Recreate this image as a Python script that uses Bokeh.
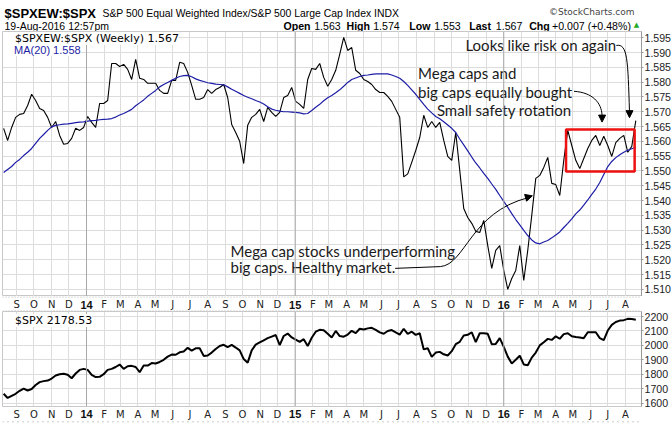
import datetime as dt
from bokeh.plotting import figure
from bokeh.layouts import column
from bokeh.models import (Range1d, FixedTicker, Legend, LegendItem, Span,
                          BoxAnnotation, NumeralTickFormatter, Arrow, NormalHead)
from bokeh.core.properties import value
from bokeh.embed import file_html
from bokeh.resources import INLINE

# ---------------- data (weekly) ----------------
first_week = dt.datetime(2013, 8, 9)

ratio = [
    1.5644, 1.5603, 1.5647, 1.5681, 1.5691, 1.5694, 1.5721, 1.5759, 1.5738, 1.5711,
    1.5704, 1.5681, 1.5647, 1.5667, 1.5620, 1.5590, 1.5593, 1.5610, 1.5644, 1.5637,
    1.5647, 1.5684, 1.5664, 1.5647, 1.5728, 1.5728, 1.5738, 1.5863, 1.5863, 1.5853,
    1.5860, 1.5843, 1.5809, 1.5877, 1.5813, 1.5809, 1.5796, 1.5796, 1.5796, 1.5772,
    1.5762, 1.5762, 1.5806, 1.5806, 1.5867, 1.5863, 1.5833, 1.5789, 1.5742, 1.5742,
    1.5748, 1.5775, 1.5762, 1.5775, 1.5782, 1.5792, 1.5748, 1.5657, 1.5630, 1.5600,
    1.5525, 1.5654, 1.5681, 1.5691, 1.5708, 1.5667, 1.5715, 1.5698, 1.5684, 1.5698,
    1.5748, 1.5755, 1.5782, 1.5735, 1.5725, 1.5711, 1.5809, 1.5846, 1.5843, 1.5863,
    1.5816, 1.5786, 1.5809, 1.5840, 1.5894, 1.5951, 1.5907, 1.5917, 1.5840, 1.5829,
    1.5809, 1.5802, 1.5792, 1.5775, 1.5765, 1.5765, 1.5752, 1.5735, 1.5708, 1.5681,
    1.5480, 1.5490, 1.5529, 1.5569, 1.5613, 1.5688, 1.5647, 1.5667, 1.5647, 1.5664,
    1.5603, 1.5549, 1.5536, 1.5630, 1.5502, 1.5373, 1.5343, 1.5323, 1.5296, 1.5292,
    1.5333, 1.5248, 1.5171, 1.5232, 1.5248, 1.5164, 1.5100, 1.5137, 1.5164, 1.5248,
    1.5130, 1.5232, 1.5350, 1.5475, 1.5485, 1.5512, 1.5546, 1.5458, 1.5454, 1.5417,
    1.5536, 1.5637, 1.5586, 1.5536, 1.5508, 1.5542, 1.5576, 1.5603, 1.5620, 1.5586,
    1.5617, 1.5586, 1.5549, 1.5596, 1.5610, 1.5620, 1.5563, 1.5583, 1.5670,
]

ma20 = [
    1.5495, 1.5505, 1.5515, 1.5529, 1.5539, 1.5552, 1.5563, 1.5576, 1.5593, 1.5610,
    1.5623, 1.5637, 1.5649, 1.5654, 1.5656, 1.5658, 1.5659, 1.5661, 1.5663, 1.5665,
    1.5666, 1.5668, 1.5670, 1.5671, 1.5673, 1.5674, 1.5675, 1.5677, 1.5682, 1.5689,
    1.5694, 1.5701, 1.5708, 1.5720, 1.5730, 1.5740, 1.5752, 1.5762, 1.5772, 1.5784,
    1.5792, 1.5799, 1.5806, 1.5813, 1.5819, 1.5822, 1.5823, 1.5818, 1.5811, 1.5806,
    1.5802, 1.5798, 1.5796, 1.5793, 1.5792, 1.5791, 1.5784, 1.5776, 1.5769, 1.5762,
    1.5755, 1.5749, 1.5744, 1.5738, 1.5733, 1.5726, 1.5717, 1.5709, 1.5705, 1.5702,
    1.5700, 1.5700, 1.5699, 1.5698, 1.5696, 1.5693, 1.5694, 1.5704, 1.5715, 1.5725,
    1.5737, 1.5747, 1.5755, 1.5764, 1.5774, 1.5786, 1.5799, 1.5809, 1.5814, 1.5819,
    1.5823, 1.5824, 1.5826, 1.5828, 1.5828, 1.5828, 1.5828, 1.5824, 1.5819, 1.5813,
    1.5802, 1.5789, 1.5774, 1.5759, 1.5742, 1.5725, 1.5709, 1.5696, 1.5684, 1.5676,
    1.5666, 1.5655, 1.5644, 1.5630, 1.5608, 1.5588, 1.5568, 1.5547, 1.5527, 1.5510,
    1.5492, 1.5475, 1.5456, 1.5438, 1.5417, 1.5397, 1.5377, 1.5356, 1.5336, 1.5318,
    1.5299, 1.5282, 1.5267, 1.5257, 1.5254, 1.5260, 1.5265, 1.5274, 1.5284, 1.5294,
    1.5309, 1.5323, 1.5338, 1.5355, 1.5368, 1.5385, 1.5402, 1.5421, 1.5439, 1.5461,
    1.5488, 1.5515, 1.5532, 1.5545, 1.5555, 1.5563, 1.5570, 1.5575, 1.5580,
]

spx = [
    1664, 1635, 1650, 1664, 1685, 1700, 1687, 1697, 1725, 1745,
    1752, 1756, 1770, 1791, 1800, 1803, 1796, 1772, 1805, 1830,
    1837, 1830, 1795, 1780, 1782, 1800, 1830, 1837, 1850, 1867,
    1837, 1855, 1858, 1850, 1814, 1860, 1860, 1877, 1874, 1885,
    1900, 1922, 1936, 1935, 1952, 1957, 1983, 1964, 1980, 1980,
    1927, 1930, 1950, 1975, 1996, 2004, 1988, 2003, 1985, 1965,
    1905, 1880, 1965, 2005, 2020, 2035, 2050, 2061, 2072, 2002,
    2065, 2082, 2055, 2040, 2024, 2043, 1995, 2053, 2095, 2108,
    2105, 2080, 2055, 2100, 2065, 2060, 2075, 2101, 2085, 2115,
    2110, 2118, 2122, 2108, 2090, 2081, 2100, 2106, 2090, 2075,
    2115, 2080, 2095, 2073, 2084, 1972, 1980, 1920, 1950, 1955,
    1938, 1930, 1960, 2008, 2025, 2068, 2073, 2091, 2023, 2084,
    2084, 2080, 2008, 2010, 2050, 1990, 1922, 1875, 1900, 1928,
    1868, 1862, 1915, 1950, 2000, 2022, 2045, 2038, 2063, 2046,
    2078, 2084, 2063, 2058, 2055, 2050, 2091, 2091, 2091, 2050,
    2037, 2103, 2142, 2162, 2172, 2175, 2184, 2183, 2178.53,
]

weeks = [first_week + dt.timedelta(weeks=i) for i in range(len(ratio))]

month_labels = ["S", "O", "N", "D", "14", "F", "M", "A", "M", "J", "J", "A",
                "S", "O", "N", "D", "15", "F", "M", "A", "M", "J", "J", "A",
                "S", "O", "N", "D", "16", "F", "M", "A", "M", "J", "J", "A"]
first_month = (2013, 9)

ratio_ticks = [1.510, 1.515, 1.520, 1.525, 1.530, 1.535, 1.540, 1.545, 1.550,
               1.555, 1.560, 1.565, 1.570, 1.575, 1.580, 1.585, 1.590, 1.595]
spx_ticks = [1600, 1700, 1800, 1900, 2000, 2100, 2200]

q_open, q_high, q_low, q_last, q_chg = "1.563", "1.574", "1.553", "1.567", "+0.007 (+0.48%)"
last_ratio, last_ma, last_spx = "1.567", "1.558", "2178.53"

# ---------------- helpers ----------------
EPOCH = dt.datetime(1970, 1, 1)


def ms(d):
    return (d - EPOCH).total_seconds() * 1000.0


months = []
yy, mm = first_month
for _ in month_labels:
    months.append(dt.datetime(yy, mm, 1))
    mm += 1
    if mm == 13:
        yy, mm = yy + 1, 1
year_starts = [d for d, l in zip(months, month_labels) if l.isdigit()]

GRID = "#dcdcdc"
YEARGRID = "#a8a8a8"
BLUE = "#1c1ca6"
AXIS_FONT = "Liberation Sans"
MONO = "DejaVu Sans"
NOTE_FONT = "Lato"

xr = Range1d(ms(dt.datetime(2013, 8, 7)), ms(dt.datetime(2016, 8, 29)))
FW = 639


def panel(height, yrange, ticks, fmt, bottom=0):
    p = figure(frame_width=FW, frame_height=height, x_range=xr, y_range=yrange,
               x_axis_location=None, y_axis_location="right",
               toolbar_location=None, output_backend="svg",
               min_border_left=2, min_border_right=0, min_border_top=0, min_border_bottom=bottom)
    p.outline_line_color = "#c8c8c8"
    p.background_fill_color = "white"
    p.border_fill_color = "white"
    ax = p.yaxis[0]
    ax.ticker = FixedTicker(ticks=ticks)
    ax.formatter = NumeralTickFormatter(format=fmt)
    ax.major_label_text_font = AXIS_FONT
    ax.major_label_text_font_size = "10.6px"
    ax.major_label_text_color = "#222222"
    ax.major_tick_out = 2
    ax.major_tick_in = 0
    ax.minor_tick_out = 0
    ax.minor_tick_in = 0
    ax.major_label_standoff = 1
    ax.axis_line_color = "#999999"
    ax.major_tick_line_color = "#999999"
    p.ygrid.ticker = FixedTicker(ticks=ticks)
    p.ygrid.grid_line_color = GRID
    p.xgrid.ticker = FixedTicker(ticks=[ms(d) for d in months])
    p.xgrid.grid_line_color = GRID
    for d in year_starts:
        p.add_layout(Span(location=ms(d), dimension="height", line_color=YEARGRID, line_width=1))
    return p


def strip(height, ylab, dots):
    s = figure(frame_width=FW, frame_height=height, x_range=xr, y_range=Range1d(0, 1),
               x_axis_location=None, y_axis_location=None,
               toolbar_location=None, output_backend="svg",
               min_border_left=2, min_border_right=29, min_border_top=0, min_border_bottom=0)
    s.grid.visible = False
    s.outline_line_color = None
    mx = [ms(d) for d, l in zip(months, month_labels) if not l.isdigit()]
    mt = [l for l in month_labels if not l.isdigit()]
    yx = [ms(d) for d, l in zip(months, month_labels) if l.isdigit()]
    yt = [l for l in month_labels if l.isdigit()]
    s.text(x=mx, y=[ylab] * len(mx), text=mt, text_font=value(MONO), text_font_size="10px",
           text_color="#222222", text_align="center", text_baseline="middle")
    s.text(x=yx, y=[ylab] * len(yx), text=yt, text_font=value(AXIS_FONT), text_font_size="11px",
           text_font_style="bold", text_color="#111111", text_align="center", text_baseline="middle")
    for loc, dash in dots:
        s.add_layout(Span(location=loc, dimension="width", line_color="#9a9a9a",
                          line_width=1, line_dash=dash))
    return s


# ---------------- header ----------------
HDR_H = 31
hdr = figure(frame_width=670, frame_height=HDR_H, x_range=Range1d(0, 670), y_range=Range1d(HDR_H, 0),
             x_axis_location=None, y_axis_location=None, toolbar_location=None,
             output_backend="svg", min_border=0)
hdr.grid.visible = False
hdr.outline_line_color = None
hdr.text(x=[2], y=[12.5], text=["$SPXEW:$SPX"], text_font=value(AXIS_FONT), text_font_size="13px",
         text_font_style="bold", text_baseline="alphabetic")
hdr.text(x=[100], y=[12.5], text=["S&P 500 Equal Weighted Index/S&P 500 Large Cap Index  INDX"],
         text_font=value(AXIS_FONT), text_font_size="10.4px", text_baseline="alphabetic")
hdr.text(x=[632], y=[11.5], text=["\u00a9StockCharts.com"], text_font=value(MONO),
         text_font_size="9px", text_color="#444444", text_align="right", text_baseline="alphabetic")
hdr.text(x=[2], y=[25], text=["19-Aug-2016 12:57pm"], text_font=value(AXIS_FONT),
         text_font_size="10.5px", text_baseline="alphabetic")
hdr.text(x=[281, 344, 406.7, 466.7, 526.7], y=[25] * 5, text=["Open", "High", "Low", "Last", "Chg"],
         text_font=value(AXIS_FONT), text_font_size="10.6px", text_font_style="bold",
         text_baseline="alphabetic")
hdr.text(x=[311.7, 370.7, 431.7, 493.3, 549.5], y=[25] * 5,
         text=[q_open, q_high, q_low, q_last, q_chg],
         text_font=value(AXIS_FONT), text_font_size="10.6px", text_baseline="alphabetic")
hdr.text(x=[634], y=[24.5], text=["\u25b2"], text_font=value(MONO), text_font_size="7px",
         text_color="#22aa22", text_align="center", text_baseline="alphabetic")

# ---------------- main panel ----------------
MAIN_H = 265
main = panel(MAIN_H, Range1d(1.5076, 1.5971), ratio_ticks, "0.000")
main.line(x=weeks, y=ratio, line_color="black", line_width=1.1)
main.line(x=weeks, y=ma20, line_color=BLUE, line_width=1.2)

d1 = main.line(x=[], y=[], line_color="black", line_width=3)
d2 = main.line(x=[], y=[], line_color=BLUE, line_width=3)
leg2 = Legend(items=[LegendItem(label=value("MA(20) " + last_ma), renderers=[d2])],
              location=(1, MAIN_H - 25), label_text_font=AXIS_FONT, label_text_font_size="11px",
              label_text_color=BLUE, glyph_width=9, glyph_height=10, label_height=10,
              label_standoff=2, padding=0, margin=0, spacing=0, border_line_color=None,
              background_fill_color="white", background_fill_alpha=1.0)
leg1 = Legend(items=[LegendItem(label=value("$SPXEW:$SPX (Weekly) " + last_ratio), renderers=[d1])],
              location=(1, MAIN_H - 14), label_text_font=MONO, label_text_font_size="11px",
              label_text_color="black", glyph_width=9, glyph_height=11, label_height=11,
              label_standoff=3, padding=0, margin=0, spacing=0, border_line_color=None,
              background_fill_color="white", background_fill_alpha=1.0)
main.add_layout(leg2)
main.add_layout(leg1)

# annotations
notes = ["Looks like risk on again", "Mega caps and", "big caps equally bought",
         "Small safety rotation", "Mega cap stocks underperforming", "big caps. Healthy market."]
notes_x = [dt.datetime(2015, 10, 26), dt.datetime(2015, 8, 4), dt.datetime(2015, 8, 4),
           dt.datetime(2015, 9, 6), dt.datetime(2014, 9, 10), dt.datetime(2014, 9, 10)]
notes_y = [1.5924, 1.5830, 1.5766, 1.5707, 1.5228, 1.5177]
main.text(x=[ms(d) for d in notes_x], y=notes_y, text=notes, text_font=value(NOTE_FONT),
          text_font_size="15px", text_color="#1a1a1a", text_baseline="middle", text_align="left")

cv = dict(
    x0=[dt.datetime(2016, 7, 16), dt.datetime(2016, 5, 3), dt.datetime(2015, 9, 12)],
    y0=[1.5924, 1.5769, 1.5177],
    cx0=[dt.datetime(2016, 8, 5), dt.datetime(2016, 6, 4), dt.datetime(2015, 10, 26)],
    cy0=[1.5931, 1.5765, 1.5184],
    cx1=[dt.datetime(2016, 8, 5), dt.datetime(2016, 6, 20), dt.datetime(2015, 11, 3)],
    cy1=[1.5873, 1.5731, 1.5360],
    x1=[dt.datetime(2016, 8, 8), dt.datetime(2016, 6, 21), dt.datetime(2016, 2, 13)],
    y1=[1.5700, 1.5688, 1.5410],
)
main.bezier(x0=[ms(d) for d in cv["x0"]], y0=cv["y0"], x1=[ms(d) for d in cv["x1"]], y1=cv["y1"],
            cx0=[ms(d) for d in cv["cx0"]], cy0=cv["cy0"], cx1=[ms(d) for d in cv["cx1"]],
            cy1=cv["cy1"], line_color="black", line_width=1)
main.segment(x0=[ms(dt.datetime(2015, 6, 25))], y0=[1.5171], x1=[ms(dt.datetime(2015, 9, 12))],
             y1=[1.5177], line_color="black", line_width=1)
heads = [((dt.datetime(2016, 8, 8), 1.5712), (dt.datetime(2016, 8, 8), 1.5680)),
         ((dt.datetime(2016, 6, 21), 1.5697), (dt.datetime(2016, 6, 21), 1.5665)),
         ((dt.datetime(2016, 1, 26), 1.5402), (dt.datetime(2016, 2, 20), 1.5416))]
for (sx, sy), (ex, ey) in heads:
    main.add_layout(Arrow(end=NormalHead(size=7, fill_color="black", line_color="black"),
                          x_start=ms(sx), y_start=sy, x_end=ms(ex), y_end=ey, line_alpha=0))

main.add_layout(BoxAnnotation(left=ms(dt.datetime(2016, 4, 19)), right=ms(dt.datetime(2016, 8, 17)),
                              bottom=1.5498, top=1.5640, fill_alpha=0, fill_color=None,
                              line_color="#ee1111", line_alpha=1.0, line_width=2.5))

# ---------------- lower panel ----------------
LOW_H = 95
low = panel(LOW_H, Range1d(1576, 2235), spx_ticks, "0", bottom=3)
low.line(x=weeks, y=spx, line_color="black", line_width=2)
d3 = low.line(x=[], y=[], line_color="black", line_width=3)
leg3 = Legend(items=[LegendItem(label=value("$SPX " + last_spx), renderers=[d3])],
              location=(1, LOW_H - 16), label_text_font=MONO, label_text_font_size="11px",
              label_text_color="black", glyph_width=9, glyph_height=11, label_height=11,
              label_standoff=3, padding=0, margin=0, spacing=0, border_line_color=None,
              background_fill_color="white", background_fill_alpha=1.0)
low.add_layout(leg3)

s1 = strip(15, 0.45, [(0.97, "1 2"), (0.03, "1 2")])
s2 = strip(14, 0.66, [(0.12, "1 4")])

layout = column(hdr, main, s1, low, s2, spacing=0)
open("out.html", "w").write(file_html(layout, INLINE))
